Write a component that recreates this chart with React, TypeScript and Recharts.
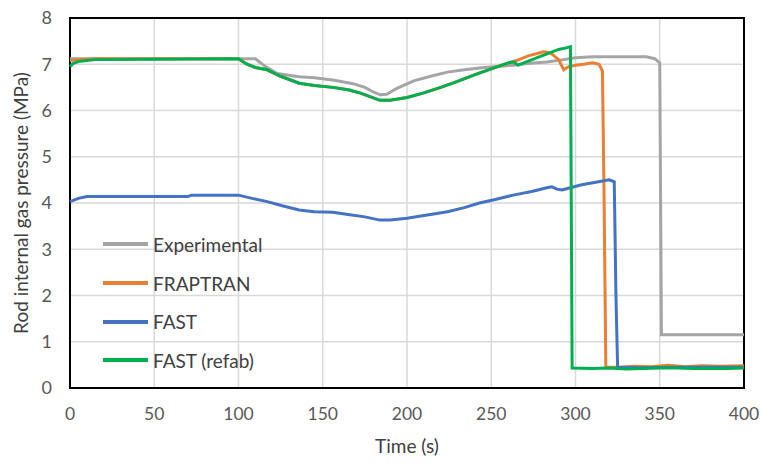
import React from "react";
import { LineChart, Line, XAxis, YAxis, CartesianGrid, ReferenceArea } from "recharts";

const experimentalT = [0, 50, 100, 110, 116, 123, 130, 136, 145, 156, 168, 175, 180, 184, 188, 194, 204, 214, 224, 234, 243, 253, 263, 273, 283, 293, 300, 310, 320, 342, 347, 350, 351, 360, 380, 400];
const experimentalP = [7.12, 7.12, 7.12, 7.12, 6.95, 6.8, 6.76, 6.73, 6.71, 6.66, 6.58, 6.5, 6.4, 6.34, 6.35, 6.48, 6.64, 6.74, 6.83, 6.88, 6.92, 6.95, 6.98, 7.02, 7.05, 7.1, 7.14, 7.16, 7.16, 7.16, 7.12, 7.03, 1.15, 1.15, 1.15, 1.15];

const fraptranT = [0, 5, 15, 50, 100, 105, 110, 117, 125, 136, 145, 156, 165, 172, 178, 184, 190, 200, 210, 220, 230, 240, 250, 258, 265, 272, 281, 285, 290, 293, 296, 300, 305, 310, 314, 316, 317, 318, 325, 335, 345, 355, 365, 375, 385, 400];
const fraptranP = [7.08, 7.1, 7.12, 7.12, 7.12, 7.0, 6.93, 6.88, 6.74, 6.59, 6.54, 6.5, 6.45, 6.38, 6.3, 6.22, 6.22, 6.28, 6.38, 6.5, 6.63, 6.77, 6.9, 7.0, 7.08, 7.18, 7.27, 7.25, 7.1, 6.88, 6.95, 6.98, 7.0, 7.03, 7.0, 6.85, 4.0, 0.45, 0.45, 0.47, 0.46, 0.49, 0.46, 0.48, 0.47, 0.48];

const fastT = [0, 5, 10, 40, 70, 72, 100, 108, 117, 126, 136, 145, 156, 165, 175, 184, 190, 200, 212, 224, 234, 243, 253, 263, 274, 283, 286, 289, 292, 297, 303, 312, 320, 323, 324, 325, 340, 360, 380, 400];
const fastP = [4.03, 4.1, 4.14, 4.14, 4.14, 4.17, 4.17, 4.1, 4.03, 3.94, 3.85, 3.81, 3.8, 3.75, 3.7, 3.63, 3.63, 3.67, 3.74, 3.81, 3.9, 4.0, 4.08, 4.17, 4.25, 4.33, 4.35, 4.3, 4.28, 4.33, 4.39, 4.45, 4.5, 4.46, 2.0, 0.45, 0.44, 0.45, 0.45, 0.45];

const refabT = [0, 2, 5, 10, 15, 50, 100, 105, 110, 117, 125, 136, 145, 156, 165, 172, 178, 184, 190, 200, 210, 220, 230, 240, 250, 260, 263, 266, 270, 280, 290, 295, 297, 298, 310, 320, 330, 340, 350, 360, 370, 380, 390, 400];
const refabP = [6.95, 7.02, 7.06, 7.08, 7.1, 7.11, 7.12, 7.0, 6.93, 6.88, 6.74, 6.59, 6.54, 6.5, 6.45, 6.38, 6.3, 6.22, 6.22, 6.28, 6.38, 6.5, 6.63, 6.77, 6.9, 7.03, 7.05, 6.98, 7.04, 7.18, 7.32, 7.36, 7.38, 0.43, 0.42, 0.43, 0.41, 0.42, 0.43, 0.43, 0.42, 0.42, 0.42, 0.43];

const xTicks = [0, 50, 100, 150, 200, 250, 300, 350, 400];
const yTicks = [0, 1, 2, 3, 4, 5, 6, 7, 8];

const toRows = (ts: number[], ps: number[]) => ts.map((t, i) => ({ t, p: ps[i] }));

const series = [
  { name: "Experimental", color: "#a5a5a5", data: toRows(experimentalT, experimentalP) },
  { name: "FRAPTRAN", color: "#ed7d31", data: toRows(fraptranT, fraptranP) },
  { name: "FAST", color: "#4472c4", data: toRows(fastT, fastP) },
  { name: "FAST (refab)", color: "#00b050", data: toRows(refabT, refabP) },
];

const FONT = "Lato, 'Open Sans', sans-serif";

const LegendBox = () => (
  <div style={{ position: "absolute", left: 103, top: 225, fontFamily: FONT, fontSize: 19, color: "#404040" }}>
    {series.map((s) => (
      <div key={s.name} style={{ display: "flex", alignItems: "center", height: 38.7 }}>
        <div style={{ width: 45, height: 4, background: s.color, marginRight: 5 }} />
        <span>{s.name}</span>
      </div>
    ))}
  </div>
);

export default function App() {
  return (
    <div style={{ position: "absolute", left: 0, top: 0, width: 762, height: 465, background: "#fff" }}>
      <LineChart width={762} height={465} margin={{ top: 18, right: 18, bottom: 0, left: 0 }}>
        <CartesianGrid stroke="#d9d9d9" strokeWidth={1.5} />
        <XAxis
          type="number"
          dataKey="t"
          domain={[0, 400]}
          ticks={xTicks}
          allowDuplicatedCategory={false}
          height={77}
          tickLine={false}
          axisLine={false}
          tickMargin={14}
          tick={{ fill: "#595959", fontSize: 17.5, fontFamily: FONT }}
          label={{ value: "Time (s)", position: "insideBottom", offset: 12, fill: "#404040", fontSize: 19, fontFamily: FONT }}
        />
        <YAxis
          type="number"
          domain={[0, 8]}
          ticks={yTicks}
          width={70}
          tickLine={false}
          axisLine={false}
          tickMargin={12}
          tick={{ fill: "#595959", fontSize: 18, fontFamily: FONT }}
          label={{ value: "Rod internal gas pressure (MPa)", angle: -90, position: "insideLeft", offset: 21, style: { textAnchor: "middle" }, fill: "#404040", fontSize: 19, fontFamily: FONT }}
        />
        {series.map((s) => (
          <Line
            key={s.name}
            data={s.data}
            dataKey="p"
            name={s.name}
            type="linear"
            stroke={s.color}
            strokeWidth={3}
            dot={false}
            isAnimationActive={false}
          />
        ))}
        <ReferenceArea x1={0} x2={400} y1={0} y2={8} fill="none" stroke="#000" strokeWidth={2} ifOverflow="visible" />
      </LineChart>
      <LegendBox />
    </div>
  );
}
